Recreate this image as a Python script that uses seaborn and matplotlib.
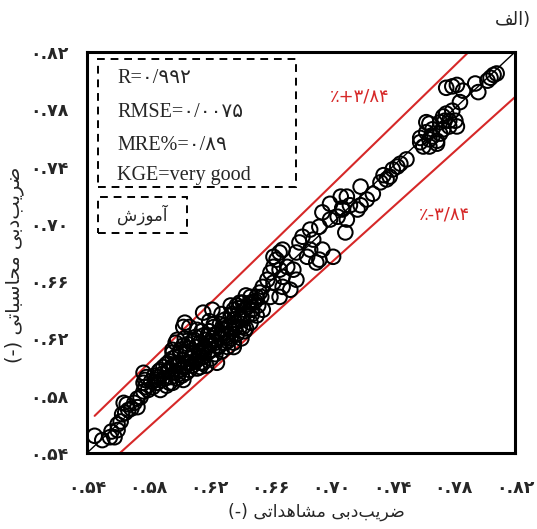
import matplotlib
matplotlib.use("Agg")
import matplotlib.pyplot as plt
import seaborn as sns
import pandas as pd
from matplotlib.patches import Rectangle

# ---------------- data ----------------
obs = [
    # lower-left
    0.545, 0.550, 0.555, 0.558, 0.560, 0.556, 0.560, 0.562, 0.563, 0.565,
    0.567, 0.566, 0.569, 0.571, 0.564, 0.573, 0.573, 0.575, 0.577, 0.578,
    0.578, 0.579, 0.577, 0.580, 0.583, 0.585, 0.586, 0.577,
    0.603, 0.598, 0.596,
    # band edges 0.59-0.65
    0.604, 0.599, 0.607, 0.616, 0.622, 0.634, 0.640, 0.647, 0.651, 0.636,
    0.614, 0.625, 0.636, 0.642, 0.603, 0.594, 0.588,
    # dense core
    0.586, 0.588, 0.589, 0.590, 0.591, 0.592, 0.593, 0.594, 0.595, 0.596,
    0.597, 0.598, 0.598, 0.599, 0.600, 0.601, 0.601, 0.602, 0.603, 0.603,
    0.604, 0.605, 0.605, 0.606, 0.607, 0.607, 0.608, 0.609, 0.609, 0.610,
    0.611, 0.611, 0.612, 0.612, 0.613, 0.614, 0.614, 0.615, 0.616, 0.616,
    0.617, 0.618, 0.618, 0.619, 0.620, 0.620, 0.621, 0.622, 0.622, 0.623,
    0.624, 0.624, 0.625, 0.626, 0.627, 0.627, 0.628, 0.629, 0.630, 0.630,
    0.631, 0.632, 0.633, 0.634, 0.634, 0.635, 0.636, 0.637, 0.638, 0.639,
    0.640, 0.641, 0.642, 0.643, 0.644, 0.645, 0.646, 0.647, 0.648, 0.650,
    0.651, 0.652, 0.654, 0.655,
    0.582, 0.584, 0.587, 0.589, 0.592, 0.594, 0.596, 0.599, 0.601, 0.603,
    0.606, 0.608, 0.610, 0.613, 0.615, 0.617, 0.619, 0.621, 0.623, 0.626,
    0.628, 0.630, 0.632, 0.635, 0.637, 0.639, 0.641, 0.643, 0.645, 0.648,
    0.596, 0.604, 0.612, 0.620, 0.628, 0.636, 0.644, 0.600, 0.616, 0.632,
    # middle 0.64-0.71
    0.706, 0.699, 0.707, 0.710, 0.694, 0.699, 0.704, 0.692, 0.686, 0.681,
    0.688, 0.686, 0.679, 0.677, 0.684, 0.690, 0.692, 0.701, 0.709, 0.694,
    0.666, 0.664, 0.662, 0.666, 0.668, 0.660, 0.658, 0.655, 0.662, 0.668,
    0.673, 0.677, 0.671, 0.653, 0.647, 0.642, 0.649, 0.638, 0.666, 0.660,
    0.675, 0.662, 0.668,
    # upper 0.71-0.77
    0.764, 0.773, 0.758, 0.764, 0.769, 0.771, 0.749, 0.745, 0.743, 0.740,
    0.734, 0.736, 0.738, 0.732, 0.727, 0.719, 0.723, 0.719, 0.710, 0.712,
    0.707, 0.717,
    # top 0.76-0.81
    0.806, 0.804, 0.808, 0.802, 0.794, 0.796, 0.775, 0.779, 0.782, 0.786,
    0.784, 0.779, 0.775, 0.777, 0.781, 0.774, 0.782, 0.777, 0.771, 0.762,
    0.766, 0.773, 0.764, 0.758, 0.760, 0.769, 0.766, 0.762,
]
calc = [
    0.552, 0.549, 0.551, 0.551, 0.556, 0.555, 0.560, 0.562, 0.567, 0.568,
    0.570, 0.574, 0.571, 0.575, 0.575, 0.572, 0.578, 0.579, 0.583, 0.586,
    0.591, 0.593, 0.589, 0.584, 0.586, 0.591, 0.593, 0.596,
    0.628, 0.617, 0.610,
    0.631, 0.619, 0.628, 0.638, 0.640, 0.643, 0.645, 0.645, 0.649, 0.633,
    0.600, 0.603, 0.614, 0.628, 0.591, 0.589, 0.598,
    0.589, 0.584, 0.595, 0.600, 0.592, 0.587, 0.598, 0.604, 0.593, 0.589,
    0.601, 0.607, 0.596, 0.592, 0.603, 0.610, 0.598, 0.594, 0.605, 0.615,
    0.600, 0.596, 0.609, 0.603, 0.613, 0.598, 0.606, 0.618, 0.601, 0.610,
    0.604, 0.621, 0.614, 0.599, 0.608, 0.617, 0.603, 0.611, 0.622, 0.607,
    0.614, 0.601, 0.619, 0.610, 0.625, 0.615, 0.606, 0.620, 0.612, 0.628,
    0.617, 0.609, 0.623, 0.614, 0.630, 0.620, 0.611, 0.626, 0.617, 0.633,
    0.622, 0.614, 0.628, 0.620, 0.636, 0.625, 0.617, 0.631, 0.623, 0.637,
    0.628, 0.620, 0.634, 0.640, 0.627, 0.636, 0.644, 0.631, 0.640, 0.646,
    0.636, 0.643, 0.649, 0.640,
    0.590, 0.594, 0.597, 0.591, 0.602, 0.598, 0.606, 0.601, 0.612, 0.600,
    0.616, 0.603, 0.619, 0.606, 0.625, 0.611, 0.622, 0.617, 0.630, 0.615,
    0.624, 0.629, 0.621, 0.637, 0.627, 0.641, 0.633, 0.625, 0.642, 0.637,
    0.612, 0.620, 0.626, 0.632, 0.637, 0.640, 0.650, 0.595, 0.603, 0.618,
    0.719, 0.714, 0.710, 0.703, 0.708, 0.703, 0.705, 0.698, 0.696, 0.691,
    0.689, 0.682, 0.687, 0.680, 0.677, 0.673, 0.675, 0.677, 0.694, 0.682,
    0.680, 0.675, 0.670, 0.668, 0.663, 0.666, 0.661, 0.656, 0.659, 0.656,
    0.654, 0.661, 0.670, 0.652, 0.649, 0.645, 0.645, 0.643, 0.649, 0.649,
    0.668, 0.677, 0.682,
    0.770, 0.775, 0.757, 0.754, 0.758, 0.763, 0.745, 0.742, 0.740, 0.738,
    0.734, 0.731, 0.733, 0.729, 0.721, 0.726, 0.717, 0.713, 0.719, 0.713,
    0.711, 0.710,
    0.804, 0.802, 0.805, 0.800, 0.798, 0.792, 0.795, 0.796, 0.797, 0.793,
    0.785, 0.779, 0.777, 0.772, 0.772, 0.772, 0.768, 0.768, 0.771, 0.771,
    0.766, 0.766, 0.759, 0.760, 0.754, 0.756, 0.761, 0.764,
]

ticks = [0.54, 0.58, 0.62, 0.66, 0.70, 0.74, 0.78, 0.82]
tick_labels = ["۰.۵۴", "۰.۵۸", "۰.۶۲", "۰.۶۶", "۰.۷۰", "۰.۷۴", "۰.۷۸", "۰.۸۲"]
band = 0.0384
band_start = 0.545
stats_lines = ["R=۰/۹۹۲", "RMSE=۰/۰۰۷۵", "MRE%=۰/۸۹", "KGE=very good"]
upper_label = "٪+۳/۸۴"
lower_label = "٪-۳/۸۴"
# Persian strings in visual (left-to-right) presentation forms
# ضریب‌دبی مشاهداتی (-)
x_label = "(-) " + "\uFEF0\uFE97\uFE8D\uFEAA\uFEEB\uFE8E\uFEB8\uFEE3" + " " + "\uFEF0\uFE91\uFEA9\uFE90\uFEF3\uFEAE\uFEBF"
# ضریب‌دبی محاسباتی (-)
y_label = "(-) " + "\uFEF0\uFE97\uFE8E\uFE92\uFEB3\uFE8E\uFEA4\uFEE3" + " " + "\uFEF0\uFE91\uFEA9\uFE90\uFEF3\uFEAE\uFEBF"
# آموزش
train_label = "\uFEB5\uFEAF\uFEEE\uFEE3\uFE81"
# الف)
panel_label = "\uFED2\uFEDF\uFE8D)"

df = pd.DataFrame({"obs": obs, "calc": calc})

sns.set_theme(style="white")
plt.rcParams["font.family"] = ["DejaVu Sans"]

fig = plt.figure(figsize=(5.37, 5.29), dpi=100)
ax = fig.add_axes([0.162, 0.1437, 0.797, 0.758])

lo, hi = ticks[0], ticks[-1]
red = "#d62828"
# 1:1 line
ax.plot([lo, hi], [lo, hi], color="black", lw=1.0, zorder=2)
# +/- band lines
up_end = hi / (1 + band)
ax.plot([band_start, up_end], [band_start * (1 + band), hi], color=red, lw=1.5, zorder=2)
lo_start = lo / (1 - band)
ax.plot([lo_start, hi], [lo, hi * (1 - band)], color=red, lw=1.5, zorder=2)

sns.scatterplot(data=df, x="obs", y="calc", ax=ax, marker="o", s=110,
                facecolor="none", edgecolor="black", linewidth=1.45, zorder=3)

ax.set_xlim(lo, hi)
ax.set_ylim(lo, hi)
ax.set_xticks(ticks)
ax.set_yticks(ticks)
ax.set_xticklabels(tick_labels, fontweight="bold", fontsize=12.5)
ax.set_yticklabels(tick_labels, fontweight="bold", fontsize=12.5)
ax.tick_params(axis="both", direction="inout", length=9, width=1.6, color="black")
ax.tick_params(axis="x", pad=14)
ax.tick_params(axis="y", pad=9)
for sp in ax.spines.values():
    sp.set_visible(True)
    sp.set_color("black")
    sp.set_linewidth(2.2)

ax.set_xlabel(x_label, fontsize=12.5)
ax.set_ylabel(y_label, fontsize=14)
ax.xaxis.set_label_coords(0.535, -0.125)
ax.yaxis.set_label_coords(-0.147, 0.47)

# stats box
ax.add_patch(Rectangle((0.026, 0.663), 0.462, 0.32, transform=ax.transAxes, fill=False,
                       ec="black", lw=1.4, ls=(0, (4, 3)), zorder=4))
for ypos, line in zip([0.935, 0.850, 0.768, 0.693], stats_lines):
    ax.text(0.070, ypos, line, transform=ax.transAxes, fontsize=14.5,
            family=["Liberation Serif", "DejaVu Sans"], va="center", ha="left", zorder=5)

# training box
ax.add_patch(Rectangle((0.026, 0.549), 0.208, 0.090, transform=ax.transAxes, fill=False,
                       ec="black", lw=1.4, ls=(0, (4, 3)), zorder=4))
ax.text(0.130, 0.594, train_label, transform=ax.transAxes, fontsize=12,
        va="center", ha="center", zorder=5)

ax.text(0.638, 0.888, upper_label, transform=ax.transAxes, fontsize=13, color=red,
        va="center", ha="center")
ax.text(0.836, 0.594, lower_label, transform=ax.transAxes, fontsize=13, color=red,
        va="center", ha="center")

fig.text(0.988, 0.962, panel_label, fontsize=13, ha="right", va="center")

fig.savefig("out.png", dpi=100)
